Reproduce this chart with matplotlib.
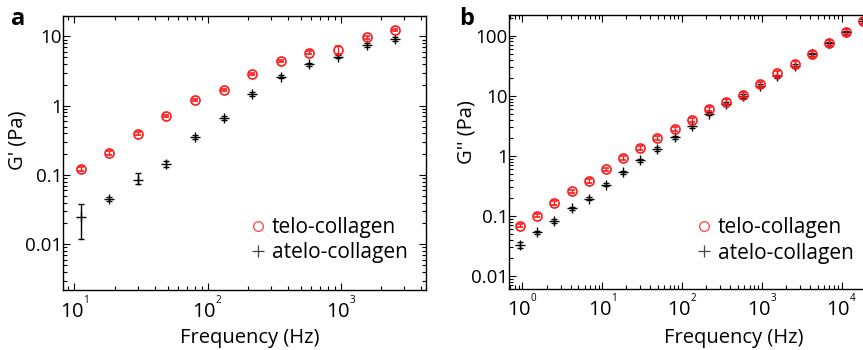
import matplotlib
matplotlib.use("Agg")
import matplotlib.pyplot as plt
from matplotlib.lines import Line2D
from matplotlib import ticker
import numpy as np

plt.rcParams['font.family'] = ['Open Sans', 'DejaVu Sans']
plt.rcParams['mathtext.fontset'] = 'custom'
plt.rcParams['mathtext.rm'] = 'Open Sans'
plt.rcParams['mathtext.it'] = 'Open Sans:italic'
plt.rcParams['mathtext.bf'] = 'Open Sans:bold'

# ---- data ----
freq = [0.93, 1.53, 2.51, 4.12, 6.76, 11.1, 18.2, 29.9, 49.0, 80.4, 132, 216,
        355, 582, 955, 1567, 2570, 4217, 6918, 11350, 18620]

# panel a: G' (storage modulus), frequencies index 5..16
freq_a = freq[5:17]
telo_Gp = [0.1225, 0.209, 0.396, 0.714, 1.22, 1.70, 2.86, 4.42, 5.87, 6.43, 9.68, 12.5]
telo_Gp_err_lo = [0.008, 0.012, 0.02, 0.03, 0.05, 0.07, 0.1, 0.15, 0.25, 0.83, 0.4, 0.5]
telo_Gp_err_hi = [0.008, 0.012, 0.02, 0.03, 0.05, 0.07, 0.1, 0.15, 0.25, 0.97, 0.4, 0.5]
atelo_Gp = [0.0245, 0.0452, 0.0853, 0.143, 0.356, 0.662, 1.47, 2.64, 3.99, 5.14, 7.52, 9.17]
atelo_Gp_err_lo = [0.0125, 0.003, 0.011, 0.012, 0.02, 0.04, 0.1, 0.15, 0.2, 0.25, 0.45, 0.5]
atelo_Gp_err_hi = [0.0135, 0.003, 0.02, 0.016, 0.02, 0.04, 0.1, 0.15, 0.2, 0.25, 0.45, 0.5]

# panel b: G'' (loss modulus), all 21 frequencies
telo_Gpp = [0.069, 0.101, 0.164, 0.257, 0.382, 0.598, 0.923, 1.35, 2.01, 2.77, 4.0,
            5.96, 7.98, 10.4, 15.5, 23.6, 33.8, 49.5, 76.6, 116.6, 176]
atelo_Gpp = [0.0329, 0.0535, 0.0826, 0.134, 0.194, 0.332, 0.533, 0.845, 1.30, 2.04, 3.15,
             5.03, 7.31, 9.93, 14.7, 21.3, 31.3, 49.1, 74.8, 115, 176]
telo_Gpp_rel_err = [0.06, 0.06, 0.06, 0.06, 0.06, 0.06, 0.06, 0.06, 0.07, 0.07, 0.08,
                    0.08, 0.09, 0.09, 0.1, 0.1, 0.12, 0.12, 0.12, 0.12, 0.12]
atelo_Gpp_rel_err = [0.12, 0.06, 0.06, 0.06, 0.06, 0.06, 0.06, 0.06, 0.06, 0.06, 0.06,
                     0.06, 0.06, 0.06, 0.06, 0.06, 0.06, 0.06, 0.06, 0.06, 0.06]

labels = ['telo-collagen', 'atelo-collagen']
RED = '#ff1a1a'

W, H = 863, 350
fig = plt.figure(figsize=(W / 100, H / 100), dpi=100)
axa = fig.add_axes([63.3 / W, 1 - 290 / H, (426 - 63.3) / W, (290 - 15.5) / H])
axb = fig.add_axes([509 / W, 1 - 288.5 / H, (877 - 509) / W, (288.5 - 15) / H])


def xfmt(v, pos):
    e = int(round(np.log10(v)))
    return r'$\mathdefault{10^{{}^{%d}}}$' % e


def style(ax):
    ax.set_xscale('log')
    ax.set_yscale('log')
    for s in ax.spines.values():
        s.set_linewidth(1.0)
    ax.tick_params(which='both', direction='in', top=True, right=True, width=0.8)
    ax.tick_params(which='major', length=5)
    ax.tick_params(which='minor', length=3)
    ax.tick_params(axis='x', which='major', labelsize=14.5, pad=4.5)
    ax.tick_params(axis='y', which='major', labelsize=13.5, pad=0.8)
    ax.xaxis.set_major_locator(ticker.LogLocator(base=10, numticks=20))
    ax.xaxis.set_minor_locator(ticker.LogLocator(base=10, subs=np.arange(2, 10), numticks=20))
    ax.yaxis.set_major_locator(ticker.LogLocator(base=10, numticks=20))
    ax.yaxis.set_minor_locator(ticker.LogLocator(base=10, subs=np.arange(2, 10), numticks=20))
    ax.xaxis.set_major_formatter(ticker.FuncFormatter(xfmt))
    ax.xaxis.set_minor_formatter(ticker.NullFormatter())
    ax.yaxis.set_major_formatter(ticker.FuncFormatter(lambda v, p: f'{v:g}'))
    ax.yaxis.set_minor_formatter(ticker.NullFormatter())


def plot_pair(ax, f, t, t_err, a, a_err):
    ax.errorbar(f, a, yerr=a_err, fmt='+', color='black', ms=7, mew=1.0,
                elinewidth=1.0, capsize=2.5, capthick=1.0, zorder=2)
    ax.errorbar(f, t, yerr=t_err, fmt='o', mfc='none', mec=RED, ms=6.5, mew=1.2,
                ecolor=RED, elinewidth=1.0, capsize=2.5, capthick=1.0, zorder=3)


def legend(ax, x, y):
    handles = [Line2D([], [], ls='none', marker='o', mfc='none', mec='#ff5050', ms=7, mew=1.0),
               Line2D([], [], ls='none', marker='+', color='#444444', ms=8, mew=0.9)]
    ax.legend(handles, labels, loc='center left', bbox_to_anchor=(x, y), frameon=False,
              fontsize=15, handlelength=0.6, handletextpad=0.35, borderpad=0,
              borderaxespad=0, labelspacing=0.2)


# panel a
style(axa)
plot_pair(axa, freq_a, telo_Gp, [telo_Gp_err_lo, telo_Gp_err_hi],
          atelo_Gp, [atelo_Gp_err_lo, atelo_Gp_err_hi])
axa.set_xlim(10 ** 0.916, 10 ** 3.64)
axa.set_ylim(10 ** -2.66, 10 ** 1.303)
axa.set_xlabel('Frequency (Hz)', fontsize=14.5)
axa.set_ylabel("G' (Pa)", fontsize=14.5)
axa.xaxis.set_label_coords(0.515, -0.14)
axa.yaxis.set_label_coords(-0.1, 0.546)
legend(axa, 0.5196, 0.181)

# panel b
style(axb)
tb_err = np.array(telo_Gpp) * np.array(telo_Gpp_rel_err)
ab_err = np.array(atelo_Gpp) * np.array(atelo_Gpp_rel_err)
plot_pair(axb, freq, telo_Gpp, tb_err, atelo_Gpp, ab_err)
axb.set_xlim(10 ** -0.169, 10 ** 4.443)
axb.set_ylim(10 ** -2.208, 10 ** 2.344)
axb.set_xlabel('Frequency (Hz)', fontsize=14.5)
axb.set_ylabel("G'' (Pa)", fontsize=14.5)
axb.xaxis.set_label_coords(0.61, -0.145)
axb.yaxis.set_label_coords(-0.087, 0.573)
legend(axb, 0.513, 0.1755)

fig.text(11 / W, 1 - 25 / H, 'a', fontsize=17, fontweight='bold', va='baseline')
fig.text(459 / W, 1 - 25 / H, 'b', fontsize=17, fontweight='bold', va='baseline')

fig.savefig('out.png', dpi=100)
